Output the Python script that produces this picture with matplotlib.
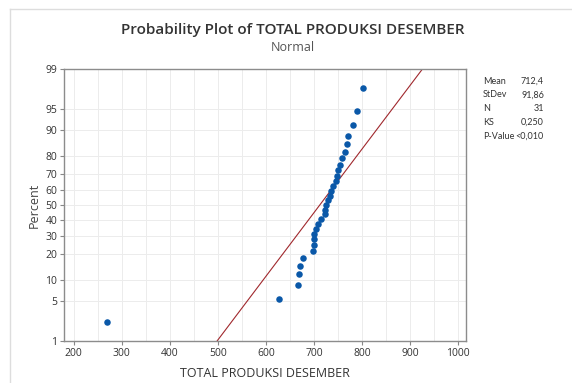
import numpy as np
import matplotlib.pyplot as plt
from statistics import NormalDist

# data (sorted)
produksi = [269, 627, 667, 670, 671, 678, 698, 701, 701, 701,
            705, 709, 714, 723, 724, 726, 729, 733, 736, 740,
            747, 749, 751, 755, 758, 765, 768, 772, 782, 790, 803]
stat_names = ['Mean', 'StDev', 'N', 'KS', 'P-Value']
stat_values = ['712,4', '91,86', '31', '0,250', '<0,010']
mean, sd = 712.4, 91.86
pct_ticks = [1, 5, 10, 20, 30, 40, 50, 60, 70, 80, 90, 95, 99]
x_ticks = [200, 300, 400, 500, 600, 700, 800, 900, 1000]

nd = NormalDist()
z = lambda p: nd.inv_cdf(p / 100.0)

n = len(produksi)
ranks = np.arange(1, n + 1)
pos = (ranks - 0.3) / (n + 0.4) * 100   # median ranks (Benard)
zpts = [z(p) for p in pos]

plt.rcParams['font.family'] = ['Open Sans', 'DejaVu Sans']

fig = plt.figure(figsize=(5.72, 3.83), dpi=100)
ax = fig.add_axes([0.112, 0.110, 0.703, 0.710])

zlo, zhi = z(1), z(99)
xl = np.array([mean + sd * zlo, mean + sd * zhi])
ax.plot(xl, [zlo, zhi], color='#a0282d', lw=0.8, zorder=2)
ax.scatter(produksi, zpts, s=22, color='#0a58a8', zorder=3, linewidths=0)

ax.set_xlim(180, 1017)
ax.set_ylim(zlo, zhi)
ax.set_yticks([z(p) for p in pct_ticks])
ax.set_yticklabels([str(p) for p in pct_ticks])
ax.set_xticks(x_ticks)
ax.set_xticks(np.arange(250, 1001, 100), minor=True)
ax.grid(True, which='both', color='#ececec', lw=0.7, zorder=0)
ax.set_axisbelow(True)
ax.tick_params(axis='both', labelsize=7.5, colors='#333333', length=3, color='#888888', pad=2)
ax.tick_params(axis='x', which='minor', length=0)
for s in ax.spines.values():
    s.set_color('#8c8c8c')
    s.set_linewidth(1.0)

ax.set_xlabel('TOTAL PRODUKSI DESEMBER', fontsize=9, color='#333333', labelpad=6)
ax.set_ylabel('Percent', fontsize=9, color='#444444', labelpad=3)

fig.text(0.512, 0.922, 'Probability Plot of TOTAL PRODUKSI DESEMBER', ha='center', va='center',
         fontsize=11, color='#333333', fontweight='semibold')
fig.text(0.512, 0.877, 'Normal', ha='center', va='center', fontsize=9, color='#555555')

for i, (nm, v) in enumerate(zip(stat_names, stat_values)):
    yy = 1 - (81 + i * 13.8) / 383
    fig.text(483 / 572, yy, nm, ha='left', va='center', fontsize=6.5, color='#333333',
             family=['Lato', 'DejaVu Sans'])
    fig.text(544 / 572, yy, v, ha='right', va='center', fontsize=6.5, color='#333333',
             family=['Lato', 'DejaVu Sans'])

# light panel border
fig.add_artist(plt.Line2D([10 / 572, 10 / 572], [0, 1 - 9 / 383], color='#dddddd', lw=1))
fig.add_artist(plt.Line2D([10 / 572, 1], [1 - 9 / 383, 1 - 9 / 383], color='#dddddd', lw=1))

fig.savefig('out.png', dpi=100)
